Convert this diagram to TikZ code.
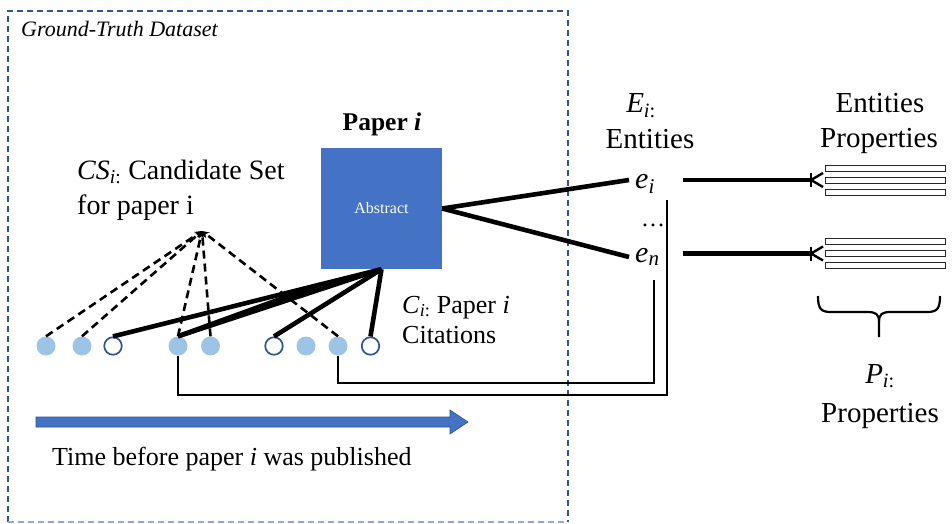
\documentclass[tikz,border=0pt]{standalone}
\usepackage{fontspec}
\setmainfont{Liberation Serif}
\usetikzlibrary{arrows.meta,calc}
\definecolor{boxblue}{HTML}{4472C4}
\definecolor{lightdot}{HTML}{9DC3E6}
\definecolor{ringblue}{HTML}{2F5597}
\definecolor{framedark}{HTML}{2F5597}
\definecolor{framelight}{HTML}{8FAADC}
\definecolor{arrowedge}{HTML}{2F528F}
\newcommand{\fsz}[1]{\fontsize{#1}{#1}\selectfont}
\begin{document}
\begin{tikzpicture}[x=1pt,y=-1pt,
  txt/.style={inner sep=0pt, anchor=base west},
  ctxt/.style={inner sep=0pt, anchor=base},
  fulldot/.style={circle, fill=lightdot, minimum size=19pt, inner sep=0pt},
  opendot/.style={circle, draw=ringblue, line width=1.7pt, fill=white, minimum size=17.5pt, inner sep=0pt},
  candline/.style={dash pattern=on 8pt off 5pt, line width=2.6pt, -{Stealth[length=7pt,width=7pt]}},
  citeline/.style={line width=4.6pt},
  linkline/.style={line width=1.7pt},
  proprect/.style={draw=black!85, line width=1pt, fill=white, minimum width=120pt, minimum height=6pt, inner sep=0pt},
  footline/.style={line width=2.4pt}]
\useasboundingbox (0,0) rectangle (952,524);
\fill[white] (0,0) rectangle (952,524);

% frame
\draw[framedark, dash pattern=on 6pt off 4pt, line width=1.6pt] (8,522) -- (8,11) -- (568,11) -- (568,522);
\draw[framelight, dash pattern=on 6pt off 4pt, line width=1.6pt] (8,522) -- (568,522);
\node[txt, font=\fsz{22}\itshape] (gt) at (21,37) {Ground-Truth Dataset};

% paper
\node[ctxt, font=\fsz{25.5}\bfseries] (ptitle) at (382,130) {Paper \textit{i}};
\node[fill=boxblue, minimum width=121pt, minimum height=121pt, inner sep=0pt, text=white, font=\fsz{16}] (abs) at (381.5,208.5) {Abstract};

% candidate set text
\node[txt, font=\fsz{28}] (cs1) at (77,179) {\textit{CS}\textsubscript{\textit{i}:} Candidate Set};
\node[txt, font=\fsz{28}] (cs2) at (77,214) {for paper i};
\coordinate (apex) at (202,231);

% citations text
\node[txt, font=\fsz{26}] (ci1) at (402,313) {\textit{C}\textsubscript{\textit{i}:} Paper \textit{i}};
\node[txt, font=\fsz{26}] (ci2) at (402,343) {Citations};

% circles
\node[fulldot] (c1) at (46,346) {};
\node[fulldot] (c2) at (82,346) {};
\node[opendot] (c3) at (113,346) {};
\node[fulldot] (c4) at (178,346) {};
\node[fulldot] (c5) at (210.5,346) {};
\node[opendot] (c6) at (274,346) {};
\node[fulldot] (c7) at (306,346) {};
\node[fulldot] (c8) at (338,346) {};
\node[opendot] (c9) at (370.5,346) {};

% candidate lines
\draw[candline] (c1.north) -- (apex);
\draw[candline] (c2.north) -- (apex);
\draw[candline] (c4.north) -- (apex);
\draw[candline] (c5.north) -- (apex);
\draw[candline] (c8.north) -- (apex);

% citation lines
\coordinate (mid1) at ($(abs.south)!0.229!(c3.north)$);
\draw[citeline] (abs.south) -- (c3.north);
\draw[citeline] (abs.south) -- (c4.north);
\draw[citeline] (mid1) -- (c4.north);
\draw[citeline] (abs.south) -- (c6.north);
\draw[citeline] (abs.south) -- (c9.north);

% entities
\node[ctxt, font=\fsz{29}] (Ehead) at (641,113) {\textit{E}\textsubscript{\textit{i}:}};
\node[ctxt, font=\fsz{29}] (Eent) at (650,148) {Entities};
\node[txt, font=\fsz{30}] (ei) at (635,188) {\textit{e}\textsubscript{\textit{i}}};
\node[txt, font=\fsz{30}] (en) at (635,262) {\textit{e}\textsubscript{\textit{n}}};
\node[ctxt, font=\fsz{24}] (edots) at (653,226) {\dots};
\coordinate (eiin) at (629,180);
\coordinate (enin) at (629,257);
\draw[citeline] (abs.east) -- (eiin);
\draw[citeline] (abs.east) -- (enin);

% links from circles to entities
\coordinate (b1) at (667,395);
\coordinate (t1) at (667,200);
\coordinate (b2) at (654,383);
\coordinate (t2) at (654,280);
\draw[linkline] (c4.south) |- (b1) -- (t1);
\draw[linkline] (c8.south) |- (b2) -- (t2);

% properties
\node[ctxt, font=\fsz{29}] (ph1) at (880,113) {Entities};
\node[ctxt, font=\fsz{29}] (ph2) at (879,147) {Properties};
\node[proprect] (p11) at (885,168.5) {};
\node[proprect] (p12) at (885,180.5) {};
\node[proprect] (p13) at (885,192.5) {};
\node[proprect] (p21) at (885,241.5) {};
\node[proprect] (p22) at (885,253.5) {};
\node[proprect] (p23) at (885,265.5) {};
\coordinate (ls1) at (683,180);
\coordinate (ls2) at (683,253.5);
\coordinate (cf1) at (811,180);
\coordinate (cf2) at (811,253.5);
\draw[citeline] (ls1) -- (cf1);
\draw[citeline] (ls2) -- (cf2);
\foreach \c in {cf1,cf2}{
  \draw[footline] ($(\c)+(0,-7)$) -- ($(\c)+(0,7)$);
  \draw[footline] ($(\c)+(12,-7)$) -- (\c) -- ($(\c)+(12,7)$);
}

% brace
\draw[line width=2.2pt] (818,296) .. controls (818,309) and (821,312) .. (831,312) -- (867,312) .. controls (876,312) and (879,314) .. (879,322) -- (879,337);
\draw[line width=2.2pt] (940,296) .. controls (940,309) and (937,312) .. (927,312) -- (891,312) .. controls (882,312) and (879,314) .. (879,322);
\node[ctxt, font=\fsz{29}] (pi1) at (880,383) {\textit{P}\textsubscript{\textit{i}:}};
\node[ctxt, font=\fsz{29}] (pi2) at (880,422) {Properties};

% time arrow
\draw[fill=boxblue, draw=arrowedge, line width=0.6pt] (36,417) -- (450,417) -- (450,410) -- (468,422) -- (450,434) -- (450,427) -- (36,427) -- cycle;
\node[txt, font=\fsz{26}] (time) at (52,465) {Time before paper \textit{i} was published};
\end{tikzpicture}
\end{document}
